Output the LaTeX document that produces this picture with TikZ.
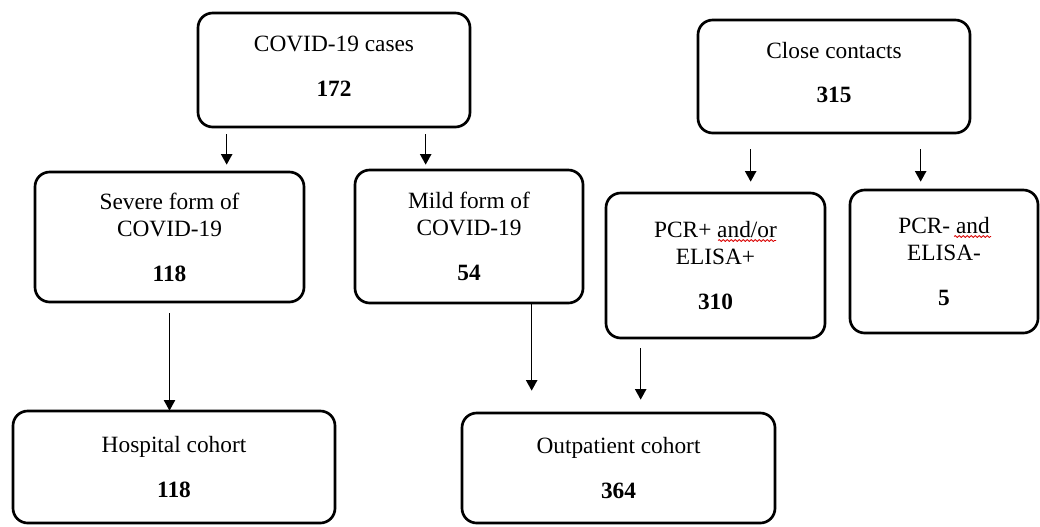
\documentclass[tikz,border=0pt]{standalone}
\usepackage{fontspec}
\setmainfont{Liberation Serif}
\usepackage{tikz}
\usetikzlibrary{arrows.meta,decorations.pathmorphing}

\begin{document}
\begin{tikzpicture}[x=0.75pt,y=-0.75pt,
    flowbox/.style={draw,line width=2pt,rounded corners=11pt,align=center,
      inner sep=0pt,font=\fontsize{17.5pt}{20.5pt}\selectfont},
    arr/.style={line width=1.1pt,-{Triangle[width=8.5pt,length=8pt]}},
    spellwave/.style={red!85!black,line width=0.6pt,decorate,
      decoration={snake,segment length=3pt,amplitude=0.7pt}}]
\useasboundingbox (0,0) rectangle (1040,526);

\node[flowbox,minimum width=204pt,minimum height=85.5pt] (cases) at (334,70)
  {COVID-19 cases\\[13pt]\textbf{172}\\[-14.5pt]};
\node[flowbox,minimum width=204pt,minimum height=84.75pt] (contacts) at (834,76.5)
  {Close contacts\\[13pt]\textbf{315}\\[-14.5pt]};
\node[flowbox,minimum width=201.75pt,minimum height=97.5pt] (severe) at (169.5,237)
  {Severe form of\\COVID-19\\[13pt]\textbf{118}};
\node[flowbox,minimum width=171pt,minimum height=99.75pt] (mild) at (469,236.5)
  {Mild form of\\COVID-19\\[13pt]\textbf{54}};
\node[flowbox,minimum width=164.25pt,minimum height=108.75pt] (pcrpos) at (715.5,265.5)
  {PCR+ and/or\\ELISA+\\[13pt]\textbf{310}};
\node[flowbox,minimum width=141pt,minimum height=107.25pt] (pcrneg) at (944,261.5)
  {PCR- and\\ELISA-\\[13pt]\textbf{5}};
\node[flowbox,minimum width=241.5pt,minimum height=84pt] (hospital) at (174,467)
  {Hospital cohort\\[13pt]\textbf{118}};
\node[flowbox,minimum width=234.75pt,minimum height=82.5pt] (outpatient) at (618.5,468)
  {Outpatient cohort\\[13pt]\textbf{364}};

% spell check marks
\draw[spellwave] ([shift={(2.5,-25)}]pcrpos.center) -- ([shift={(60.5,-25)}]pcrpos.center);
\draw[spellwave] ([shift={(10,-25)}]pcrneg.center) -- ([shift={(47,-25)}]pcrneg.center);

% arrows
\draw[arr,shorten >=9pt] ([shift={(30,6)}]cases.south west) -- ([shift={(30,6)}]cases.south west |- severe.north);
\draw[arr,shorten >=7.5pt] ([shift={(229,6)}]cases.south west) -- ([shift={(229,6)}]cases.south west |- mild.north);
\draw[arr,shorten >=18.75pt] ([shift={(54,15)}]contacts.south west) -- ([shift={(54,15)}]contacts.south west |- pcrpos.north);
\draw[arr,shorten >=16.5pt] ([shift={(224,15)}]contacts.south west) -- ([shift={(224,15)}]contacts.south west |- pcrneg.north);
\draw[arr,shorten >=6.75pt] ([shift={(0,10)}]severe.south) -- ([shift={(0,10)}]severe.south |- hospital.north);
\draw[arr,shorten >=15.75pt] ([shift={(178,0)}]mild.south west) -- ([shift={(178,0)}]mild.south west |- outpatient.north);
\draw[arr,shorten >=15.75pt] ([shift={(36,9)}]pcrpos.south west) -- ([shift={(36,9)}]pcrpos.south west |- outpatient.north);
\end{tikzpicture}
\end{document}
